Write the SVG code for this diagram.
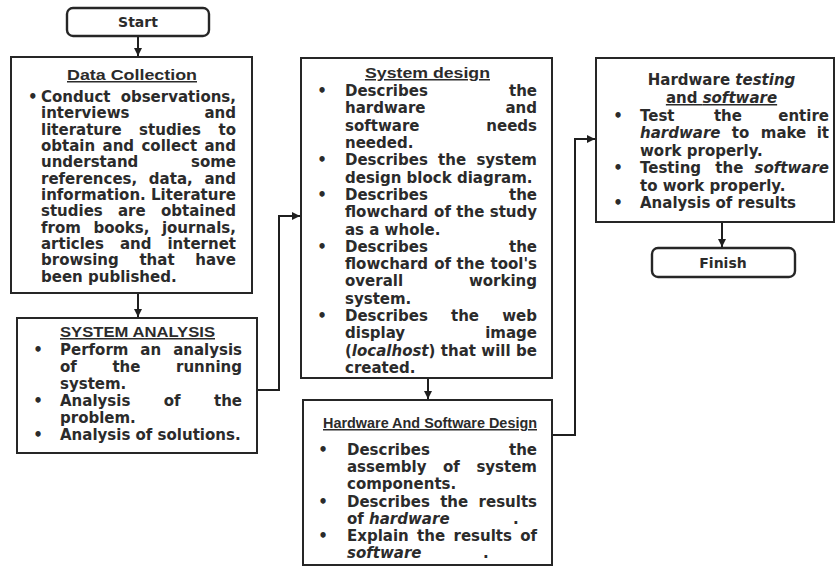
<svg xmlns="http://www.w3.org/2000/svg" width="836" height="567" viewBox="0 0 836 567">
<style>
.bx{fill:#fff;stroke:#262626;stroke-width:2}
.rd{fill:#fff;stroke:#262626;stroke-width:2.4}
.b{font-family:"DejaVu Sans",sans-serif;font-weight:bold;font-size:15px;fill:#2b2b2b}
.e{text-anchor:end}
.m{text-anchor:middle}
.i{font-style:italic}
.t{font-family:"Liberation Sans",sans-serif;font-weight:bold;font-size:15px;fill:#2b2b2b;text-anchor:middle;text-decoration:underline}
.tb{font-family:"DejaVu Sans",sans-serif;font-weight:bold;font-size:14px;fill:#2b2b2b;text-anchor:middle}
.c{fill:none;stroke:#1f1f1f;stroke-width:2}
</style>
<defs>
<marker id="ah" markerUnits="userSpaceOnUse" markerWidth="10" markerHeight="10" refX="8" refY="4" orient="auto">
<path d="M0,0 L8,4 L0,8 Z" fill="#1f1f1f"/>
</marker>
</defs>
<rect width="836" height="567" fill="#fff"/>

<g id="connectors">
<path class="c" d="M138 36 V56" marker-end="url(#ah)"/>
<path class="c" d="M138 293 V317" marker-end="url(#ah)"/>
<path class="c" d="M257 390 H279 V216 H300" marker-end="url(#ah)"/>
<path class="c" d="M428 378 V399" marker-end="url(#ah)"/>
<path class="c" d="M552 435 H575 V139 H595" marker-end="url(#ah)"/>
<path class="c" d="M722 222 V247" marker-end="url(#ah)"/>
</g>

<g id="start">
<rect class="rd" x="67" y="8" width="142" height="28" rx="6"/>
<text class="tb" x="138" y="27">Start</text>
</g>

<g id="data-collection">
<rect class="bx" x="11" y="57" width="241" height="236"/>
<text class="t" x="132" y="80" textLength="130" lengthAdjust="spacingAndGlyphs">Data Collection</text>
<text class="b" x="28" y="102">•</text>
<text class="b" x="41" y="102">Conduct</text><text class="b e" x="236" y="102">observations,</text>
<text class="b" x="41" y="118.3">interviews</text><text class="b e" x="236" y="118.3">and</text>
<text class="b" x="41" y="134.6">literature</text><text class="b m" x="170" y="134.6">studies</text><text class="b e" x="236" y="134.6">to</text>
<text class="b" x="41" y="151">obtain</text><text class="b m" x="118.3" y="151">and</text><text class="b m" x="169.3" y="151">collect</text><text class="b e" x="236" y="151">and</text>
<text class="b" x="41" y="167.3">understand</text><text class="b e" x="236" y="167.3">some</text>
<text class="b" x="41" y="183.6">references,</text><text class="b m" x="170.8" y="183.6">data,</text><text class="b e" x="236" y="183.6">and</text>
<text class="b" x="41" y="199.9">information.</text><text class="b e" x="236" y="199.9">Literature</text>
<text class="b" x="41" y="216.2">studies</text><text class="b m" x="131.8" y="216.2">are</text><text class="b e" x="236" y="216.2">obtained</text>
<text class="b" x="41" y="232.6">from</text><text class="b m" x="121.4" y="232.6">books,</text><text class="b e" x="236" y="232.6">journals,</text>
<text class="b" x="41" y="248.9">articles</text><text class="b m" x="135.7" y="248.9">and</text><text class="b e" x="236" y="248.9">internet</text>
<text class="b" x="41" y="265.2">browsing</text><text class="b m" x="157" y="265.2">that</text><text class="b e" x="236" y="265.2">have</text>
<text class="b" x="41" y="281.5">been published.</text>
</g>

<g id="system-analysis">
<rect class="bx" x="17" y="318" width="240" height="135"/>
<text class="t" x="137.5" y="337" textLength="155" lengthAdjust="spacingAndGlyphs">SYSTEM ANALYSIS</text>
<text class="b m" x="38" y="355">•</text>
<text class="b" x="60" y="355">Perform</text><text class="b m" x="150.7" y="355">an</text><text class="b e" x="242" y="355">analysis</text>
<text class="b" x="60" y="372">of</text><text class="b m" x="126.4" y="372">the</text><text class="b e" x="242" y="372">running</text>
<text class="b" x="60" y="389">system.</text>
<text class="b m" x="38" y="406">•</text>
<text class="b" x="60" y="406">Analysis</text><text class="b m" x="172.1" y="406">of</text><text class="b e" x="242" y="406">the</text>
<text class="b" x="60" y="423">problem.</text>
<text class="b m" x="38" y="440">•</text>
<text class="b" x="60" y="440">Analysis of solutions.</text>
</g>

<g id="system-design">
<rect class="bx" x="301" y="58" width="251" height="320"/>
<text class="t" x="427.5" y="78" textLength="125" lengthAdjust="spacingAndGlyphs">System design</text>
<text class="b m" x="322" y="96">•</text>
<text class="b" x="345" y="96">Describes</text><text class="b e" x="537" y="96">the</text>
<text class="b" x="345" y="113.3">hardware</text><text class="b e" x="537" y="113.3">and</text>
<text class="b" x="345" y="130.6">software</text><text class="b e" x="537" y="130.6">needs</text>
<text class="b" x="345" y="147.9">needed.</text>
<text class="b m" x="322" y="165.2">•</text>
<text class="b" x="345" y="165.2">Describes</text><text class="b m" x="452.1" y="165.2">the</text><text class="b e" x="537" y="165.2">system</text>
<text class="b" x="345" y="182.6">design block diagram.</text>
<text class="b m" x="322" y="199.9">•</text>
<text class="b" x="345" y="199.9">Describes</text><text class="b e" x="537" y="199.9">the</text>
<text class="b" x="345" y="217.2">flowchard</text><text class="b m" x="442.5" y="217.2">of</text><text class="b m" x="470.3" y="217.2">the</text><text class="b e" x="537" y="217.2">study</text>
<text class="b" x="345" y="234.5">as a whole.</text>
<text class="b m" x="322" y="251.8">•</text>
<text class="b" x="345" y="251.8">Describes</text><text class="b e" x="537" y="251.8">the</text>
<text class="b" x="345" y="269.1">flowchard</text><text class="b m" x="442.7" y="269.1">of</text><text class="b m" x="470.6" y="269.1">the</text><text class="b e" x="537" y="269.1">tool's</text>
<text class="b" x="345" y="286.4">overall</text><text class="b e" x="537" y="286.4">working</text>
<text class="b" x="345" y="303.7">system.</text>
<text class="b m" x="322" y="321">•</text>
<text class="b" x="345" y="321">Describes</text><text class="b m" x="465" y="321">the</text><text class="b e" x="537" y="321">web</text>
<text class="b" x="345" y="338.3">display</text><text class="b e" x="537" y="338.3">image</text>
<text class="b" x="345" y="355.7">(<tspan class="i">localhost</tspan>)</text><text class="b m" x="458.4" y="355.7">that</text><text class="b m" x="496" y="355.7">will</text><text class="b e" x="537" y="355.7">be</text>
<text class="b" x="345" y="373">created.</text>
</g>

<g id="hw-sw-design">
<rect class="bx" x="303" y="400" width="249" height="165"/>
<text class="t" x="430" y="428" textLength="214" lengthAdjust="spacingAndGlyphs">Hardware And Software Design</text>
<text class="b m" x="323" y="455">•</text>
<text class="b" x="347" y="455">Describes</text><text class="b e" x="537" y="455">the</text>
<text class="b" x="347" y="472.2">assembly</text><text class="b m" x="451.4" y="472.2">of</text><text class="b e" x="537" y="472.2">system</text>
<text class="b" x="347" y="489.3">components.</text>
<text class="b m" x="323" y="506.5">•</text>
<text class="b" x="347" y="506.5">Describes</text><text class="b m" x="454.2" y="506.5">the</text><text class="b e" x="537" y="506.5">results</text>
<text class="b" x="347" y="523.7">of <tspan class="i">hardware</tspan></text><text class="b" x="513" y="523.7">.</text>
<text class="b m" x="323" y="540.9">•</text>
<text class="b" x="347" y="540.9">Explain</text><text class="b m" x="431.1" y="540.9">the</text><text class="b m" x="482.7" y="540.9">results</text><text class="b e" x="537" y="540.9">of</text>
<text class="b i" x="347" y="558">software</text><text class="b" x="483" y="558">.</text>
</g>

<g id="hw-testing">
<rect class="bx" x="596" y="58" width="238" height="164"/>
<text class="b m" x="721.5" y="85">Hardware <tspan class="i">testing</tspan></text>
<text class="b m" x="721.5" y="103" text-decoration="underline">and <tspan class="i">software</tspan></text>
<text class="b m" x="618" y="121">•</text>
<text class="b" x="640" y="121">Test</text><text class="b m" x="727.9" y="121">the</text><text class="b e" x="829" y="121">entire</text>
<text class="b i" x="640" y="138.4">hardware</text><text class="b m" x="740.5" y="138.4">to</text><text class="b m" x="783.5" y="138.4">make</text><text class="b e" x="829" y="138.4">it</text>
<text class="b" x="640" y="155.8">work properly.</text>
<text class="b m" x="618" y="173.2">•</text>
<text class="b" x="640" y="173.2">Testing</text><text class="b m" x="729.3" y="173.2">the</text><text class="b e i" x="829" y="173.2">software</text>
<text class="b" x="640" y="190.6">to work properly.</text>
<text class="b m" x="618" y="208">•</text>
<text class="b" x="640" y="208">Analysis of results</text>
</g>

<g id="finish">
<rect class="rd" x="652" y="248" width="143" height="29" rx="6"/>
<text class="tb" x="723" y="268">Finish</text>
</g>
</svg>
